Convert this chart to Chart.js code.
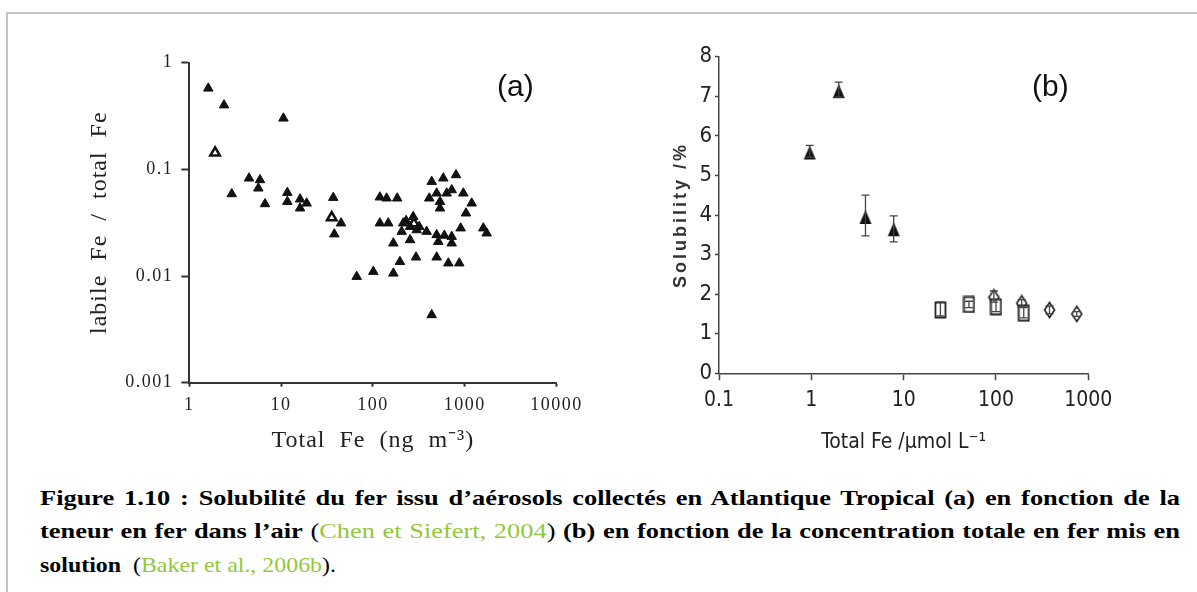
<!DOCTYPE html>
<html>
<head>
<meta charset="utf-8">
<script src="https://cdn.jsdelivr.net/npm/chart.js@4.4.1/dist/chart.umd.min.js"></script>
<style>
  body { margin: 0; background: #fff; }
  #page { position: relative; width: 1197px; height: 592px; overflow: hidden; background: #fff; }
  .frame-top { position: absolute; left: 6px; top: 12px; width: 1191px; height: 2px; background: #c4c4c4; }
  .frame-left { position: absolute; left: 6px; top: 12px; width: 2px; height: 580px; background: #c4c4c4; }
  #chartA { position: absolute; left: 0; top: 0; }
  #chartB { position: absolute; left: 600px; top: 0; }
  .tag { position: absolute; font-family: "Liberation Sans", Arial, sans-serif; font-size: 30px; line-height: 30px; color: #111; }
  #caption { position: absolute; left: 40px; top: 481px; width: 950px; transform: scaleX(1.2); transform-origin: 0 0;
             font-family: "Liberation Serif", "Times New Roman", serif; font-size: 22px; line-height: 33.3px; color: #000; }
  .line { text-align: justify; text-align-last: justify; }
  .tail { display: inline-block; transform: scaleX(0.905); transform-origin: 0 0; white-space: nowrap; }
  .ref { color: #92c83e; }
</style>
</head>
<body>
<div id="page">
  <div class="frame-top"></div>
  <div class="frame-left"></div>
  <canvas id="chartA" width="600" height="460"></canvas>
  <canvas id="chartB" width="597" height="460"></canvas>
  <div class="tag" style="left:497px; top:71px;">(a)</div>
  <div class="tag" style="left:1032px; top:71px;">(b)</div>
  <div id="caption">
    <div class="line"><b>Figure 1.10 : Solubilité du fer issu d’aérosols collectés en Atlantique Tropical (a) en fonction de la</b></div>
    <div class="line"><b>teneur en fer dans l’air</b> (<span class="ref">Chen et Siefert, 2004</span>) <b>(b) en fonction de la concentration totale en fer mis en</b></div>
    <div><span class="tail"><b>solution</b>&nbsp; (<span class="ref">Baker et al., 2006b</span>).</span></div>
  </div>
</div>
<script>
// panel (a): labile / total Fe against total Fe in air
const aTotalFe = [1.61, 2.39, 10.6, 2.9, 4.47, 5.89, 5.65, 6.68, 11.7, 11.7, 16.1, 19.0, 16.1,
  37.0, 45.0, 38.0, 119, 141, 184, 437, 585, 804, 411, 538, 637, 722, 538, 966, 1192, 1033,
  119, 147, 214, 275, 254, 206, 300, 385, 495, 722, 722, 516, 167, 254, 904, 1595, 1737,
  197, 167, 101, 66.6, 295, 495, 663, 873, 437, 230, 320, 600, 495];
const aLabileRatio = [0.575, 0.40, 0.301, 0.0588, 0.0825, 0.0796, 0.0665, 0.0474, 0.0605, 0.0498, 0.0525, 0.0481, 0.0432,
  0.0543, 0.0313, 0.0247, 0.0548, 0.0536, 0.0536, 0.0767, 0.0826, 0.0886, 0.0536, 0.0498, 0.0597, 0.0641, 0.0432, 0.0597, 0.0481, 0.0388,
  0.0313, 0.0313, 0.0313, 0.036, 0.029, 0.0261, 0.027, 0.0261, 0.0243, 0.0234, 0.0203, 0.021, 0.0203, 0.0218, 0.0281, 0.0281, 0.0252,
  0.0136, 0.0106, 0.011, 0.00987, 0.015, 0.015, 0.0132, 0.0132, 0.00432, 0.033, 0.029, 0.024, 0.0597];
const aOpenFe = [1.91, 35.6, 280];
const aOpenRatio = [0.143, 0.0353, 0.031];
const aXTicks = [1, 10, 100, 1000, 10000];
const aXTickLabels = ["1", "10", "100", "1000", "10000"];
const aYTicks = [0.001, 0.01, 0.1, 1];
const aYTickLabels = ["0.001", "0.01", "0.1", "1"];

// panel (b): solubility against total Fe in solution
const bTriFe = [0.96, 1.98, 3.86, 7.8];
const bTriSol = [5.58, 7.13, 3.95, 3.64];
const bTriHi = [5.76, 7.36, 4.5, 3.98];
const bTriLo = [5.46, 6.98, 3.47, 3.32];
const bBoxFe = [25, 51, 100, 200];
const bBoxSol = [1.6, 1.74, 1.68, 1.52];
const bBoxHi = [1.8, 1.82, 1.86, 1.66];
const bBoxLo = [1.45, 1.66, 1.56, 1.4];
const bDiaFe = [95, 190, 380, 750];
const bDiaSol = [1.92, 1.77, 1.6, 1.5];
const bDiaHi = [2.08, 1.86, 1.7, 1.56];
const bDiaLo = [1.8, 1.68, 1.5, 1.44];
const bXTicks = [0.1, 1, 10, 100, 1000];
const bXTickLabels = ["0.1", "1", "10", "100", "1000"];
const bYTicks = [0, 1, 2, 3, 4, 5, 6, 7, 8];
const bYTickLabels = ["0", "1", "2", "3", "4", "5", "6", "7", "8"];

const pts = (xs, ys) => xs.map((x, i) => ({ x: x, y: ys[i] }));

const serif = '"Liberation Serif", "Times New Roman", serif';
const narrow = '"Liberation Sans Narrow", "DejaVu Sans Condensed", "DejaVu Sans", sans-serif';

// wide-set lettering like the scanned figure: whatever is drawn before the
// datasets gets opts.title spacing, whatever is drawn after gets opts.ticks
const spacing = {
  id: 'spacing',
  beforeDraw(chart, args, opts) { chart.ctx.letterSpacing = opts.title + 'px'; },
  afterDatasetsDraw(chart, args, opts) { chart.ctx.letterSpacing = opts.ticks + 'px'; }
};

const errorBars = {
  id: 'errorBars',
  afterDatasetsDraw(chart) {
    const { ctx } = chart;
    const x = chart.scales.x, y = chart.scales.y;
    chart.data.datasets.forEach((ds) => {
      if (!ds.errHi) return;
      ctx.save();
      ctx.strokeStyle = '#444';
      ctx.lineWidth = 1.3;
      ds.data.forEach((p, i) => {
        const px = x.getPixelForValue(p.x);
        const top = y.getPixelForValue(ds.errHi[i]);
        const bot = y.getPixelForValue(ds.errLo[i]);
        ctx.beginPath();
        ctx.moveTo(px, top); ctx.lineTo(px, bot);
        ctx.moveTo(px - 4, top); ctx.lineTo(px + 4, top);
        ctx.moveTo(px - 4, bot); ctx.lineTo(px + 4, bot);
        ctx.stroke();
      });
      ctx.restore();
    });
  }
};

function marker(kind, w, h, lw) {
  const c = document.createElement('canvas');
  c.width = w + 2; c.height = h + 2;
  const g = c.getContext('2d');
  g.lineWidth = lw; g.strokeStyle = '#222'; g.fillStyle = '#111';
  g.beginPath();
  if (kind === 'tri') {
    g.moveTo(c.width / 2, 1); g.lineTo(c.width - 1, c.height - 1); g.lineTo(1, c.height - 1);
    g.closePath(); g.fill();
  } else if (kind === 'box') {
    g.fillStyle = '#fff';
    g.rect(1.5, 1.5, w - 1, h - 1); g.fill(); g.stroke();
  } else {
    g.fillStyle = '#fff';
    g.moveTo(c.width / 2, 1.5); g.lineTo(c.width - 1.5, c.height / 2);
    g.lineTo(c.width / 2, c.height - 1.5); g.lineTo(1.5, c.height / 2);
    g.closePath(); g.fill(); g.stroke();
  }
  return c;
}

function fixedTicks(values) {
  return (scale) => { scale.ticks = values.map((v) => ({ value: v })); };
}

new Chart(document.getElementById('chartA'), {
  type: 'scatter',
  data: {
    datasets: [
      { data: pts(aTotalFe, aLabileRatio), pointStyle: 'triangle', pointRadius: 5.5,
        backgroundColor: '#111', borderColor: '#111', borderWidth: 1 },
      { data: pts(aOpenFe, aOpenRatio), pointStyle: 'triangle', pointRadius: 5.5,
        backgroundColor: '#fff', borderColor: '#111', borderWidth: 2.5 }
    ]
  },
  options: {
    responsive: false,
    animation: false,
    layout: { padding: { left: 0, top: 62.7, right: 43.5, bottom: 0 } },
    plugins: { legend: { display: false }, tooltip: { enabled: false }, spacing: { title: 1, ticks: 1.5 } },
    scales: {
      x: {
        type: 'logarithmic', min: 1, max: 10000,
        afterBuildTicks: fixedTicks(aXTicks),
        afterFit: (s) => { s.height = 77.3; },
        grid: { drawOnChartArea: false, tickLength: 4, tickColor: '#333', tickWidth: 2 },
        border: { color: '#333', width: 2 },
        ticks: { z: 1, autoSkip: false, maxRotation: 0, padding: 8, color: '#222',
                 font: { family: serif, size: 18 },
                 callback: (v, i) => aXTickLabels[i] },
        title: { display: true, text: 'Total  Fe  (ng  m⁻³)', color: '#222',
                 font: { family: serif, size: 24 }, padding: { top: 0, bottom: 4.6 } }
      },
      y: {
        type: 'logarithmic', min: 0.001, max: 1,
        afterBuildTicks: fixedTicks(aYTicks),
        afterFit: (s) => { s.width = 189.3; },
        grid: { drawOnChartArea: false, tickLength: 8, tickColor: '#333', tickWidth: 2 },
        border: { color: '#333', width: 2 },
        ticks: { z: 1, autoSkip: false, padding: 8, color: '#222',
                 font: { family: serif, size: 18 },
                 callback: (v, i) => aYTickLabels[i] },
        title: { display: true, text: 'labile  Fe  /  total  Fe', color: '#222',
                 font: { family: serif, size: 24 }, padding: { top: 85.6, bottom: 0 } }
      }
    }
  },
  plugins: [spacing]
});

new Chart(document.getElementById('chartB'), {
  type: 'scatter',
  data: {
    datasets: [
      { data: pts(bTriFe, bTriSol), errHi: bTriHi, errLo: bTriLo,
        pointStyle: marker('tri', 12, 14, 1), pointRadius: 6 },
      { data: pts(bBoxFe, bBoxSol), errHi: bBoxHi, errLo: bBoxLo,
        pointStyle: marker('box', 11, 16, 1.8), pointRadius: 6 },
      { data: pts(bDiaFe, bDiaSol), errHi: bDiaHi, errLo: bDiaLo,
        pointStyle: marker('dia', 11, 16, 1.6), pointRadius: 6 }
    ]
  },
  options: {
    responsive: false,
    animation: false,
    layout: { padding: { left: 0, top: 56.7, right: 108.7, bottom: 0 } },
    plugins: { legend: { display: false }, tooltip: { enabled: false }, spacing: { title: 3, ticks: 0 } },
    scales: {
      x: {
        type: 'logarithmic', min: 0.1, max: 1000,
        afterBuildTicks: fixedTicks(bXTicks),
        afterFit: (s) => { s.height = 86.7; },
        // z = 1: the x title is drawn after the datasets, without the wide spacing
        grid: { z: 1, drawOnChartArea: false, tickLength: 7, tickColor: '#444', tickWidth: 1.5 },
        border: { z: 1, color: '#444', width: 1.5 },
        ticks: { z: 1, autoSkip: false, maxRotation: 0, padding: 7.7, color: '#222',
                 font: { family: narrow, size: 21, weight: 'condensed' },
                 callback: (v, i) => bXTickLabels[i] },
        title: { display: true, text: 'Total Fe /µmol L⁻¹', color: '#222',
                 font: { family: narrow, size: 21, weight: 'condensed' }, padding: { top: 0, bottom: 4.4 } }
      },
      y: {
        type: 'linear', min: 0, max: 8,
        afterBuildTicks: fixedTicks(bYTicks),
        afterFit: (s) => { s.width = 119; },
        grid: { drawOnChartArea: false, tickLength: 4, tickColor: '#444', tickWidth: 1.5 },
        border: { color: '#444', width: 1.5 },
        ticks: { z: 1, autoSkip: false, padding: 3, color: '#222',
                 font: { family: narrow, size: 22, weight: 'condensed' },
                 callback: (v, i) => bYTickLabels[i] },
        title: { display: true, text: 'Solubility /%', color: '#333',
                 font: { family: '"Liberation Sans", Arial, sans-serif', size: 18, weight: 'bold' },
                 padding: { top: 70.2, bottom: 0 } }
      }
    }
  },
  plugins: [spacing, errorBars]
});
</script>
</body>
</html>
